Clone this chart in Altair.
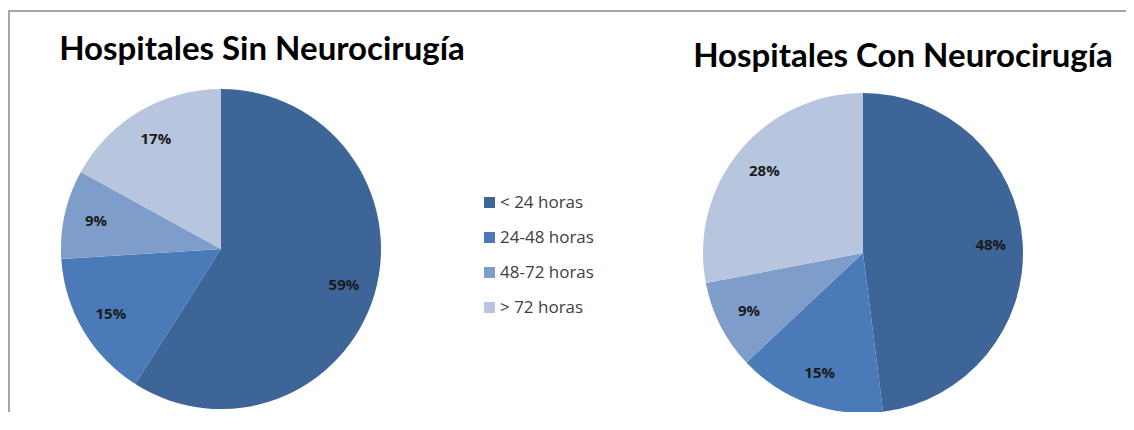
import altair as alt
import pandas as pd

categories = ["< 24 horas", "24-48 horas", "48-72 horas", "> 72 horas"]
sin_values = [59, 15, 9, 17]
con_values = [48, 15, 9, 28]
titles = ["Hospitales Sin Neurocirugía", "Hospitales Con Neurocirugía"]
colors = ["#3D6597", "#4A7AB7", "#7F9DCB", "#B7C5DF"]

W, H = 1118, 404

def pie_df(values):
    return pd.DataFrame({
        "cat": categories,
        "val": values,
        "ord": list(range(len(categories))),
        "label": [f"{v}%" for v in values],
    })

color = alt.Color(
    "cat:N",
    scale=alt.Scale(domain=categories, range=colors),
    legend=alt.Legend(
        title=None, orient="none", legendX=473, legendY=186,
        symbolType="square", symbolSize=121, symbolStrokeWidth=0,
        labelFontSize=17, labelFont="Open Sans", labelColor="#404040",
        rowPadding=17, labelOffset=2, symbolOpacity=1,
    ),
)

def pie(values, cx, cy, r):
    base = alt.Chart(pie_df(values)).encode(
        theta=alt.Theta("val:Q", stack=True),
        order=alt.Order("ord:Q"),
    )
    arc = base.mark_arc(outerRadius=r).encode(
        x=alt.value(cx), y=alt.value(cy), color=color,
    )
    txt = base.mark_text(
        radius=r * 0.8, font="Open Sans", fontSize=15, fontWeight="bold", color="#1a1a1a"
    ).encode(x=alt.value(cx), y=alt.value(cy), text="label:N")
    return arc, txt

a1, t1 = pie(sin_values, 213, 241, 160)
a2, t2 = pie(con_values, 855, 245, 160)

title_df = pd.DataFrame({"t": titles, "i": [0, 1]})
title1 = alt.Chart(title_df[title_df.i == 0]).mark_text(
    font="Lato", fontSize=33, fontWeight="bold", color="#000000"
).encode(text="t:N", x=alt.value(254), y=alt.value(42))
title2 = alt.Chart(title_df[title_df.i == 1]).mark_text(
    font="Lato", fontSize=33, fontWeight="bold", color="#000000"
).encode(text="t:N", x=alt.value(895), y=alt.value(49))

top_line = alt.Chart(title_df.head(1)).mark_rect(color="#A6A6A6").encode(
    x=alt.value(0), x2=alt.value(W), y=alt.value(2), y2=alt.value(4)
)
left_line = alt.Chart(title_df.head(1)).mark_rect(color="#A6A6A6").encode(
    x=alt.value(0), x2=alt.value(2), y=alt.value(2), y2=alt.value(H)
)

chart = alt.layer(top_line, left_line, a1, t1, a2, t2, title1, title2).properties(
    width=W, height=H, padding=0, autosize="none"
).configure_view(stroke=None)

chart.save("out.html", embed_options={"renderer": "svg", "actions": False})
